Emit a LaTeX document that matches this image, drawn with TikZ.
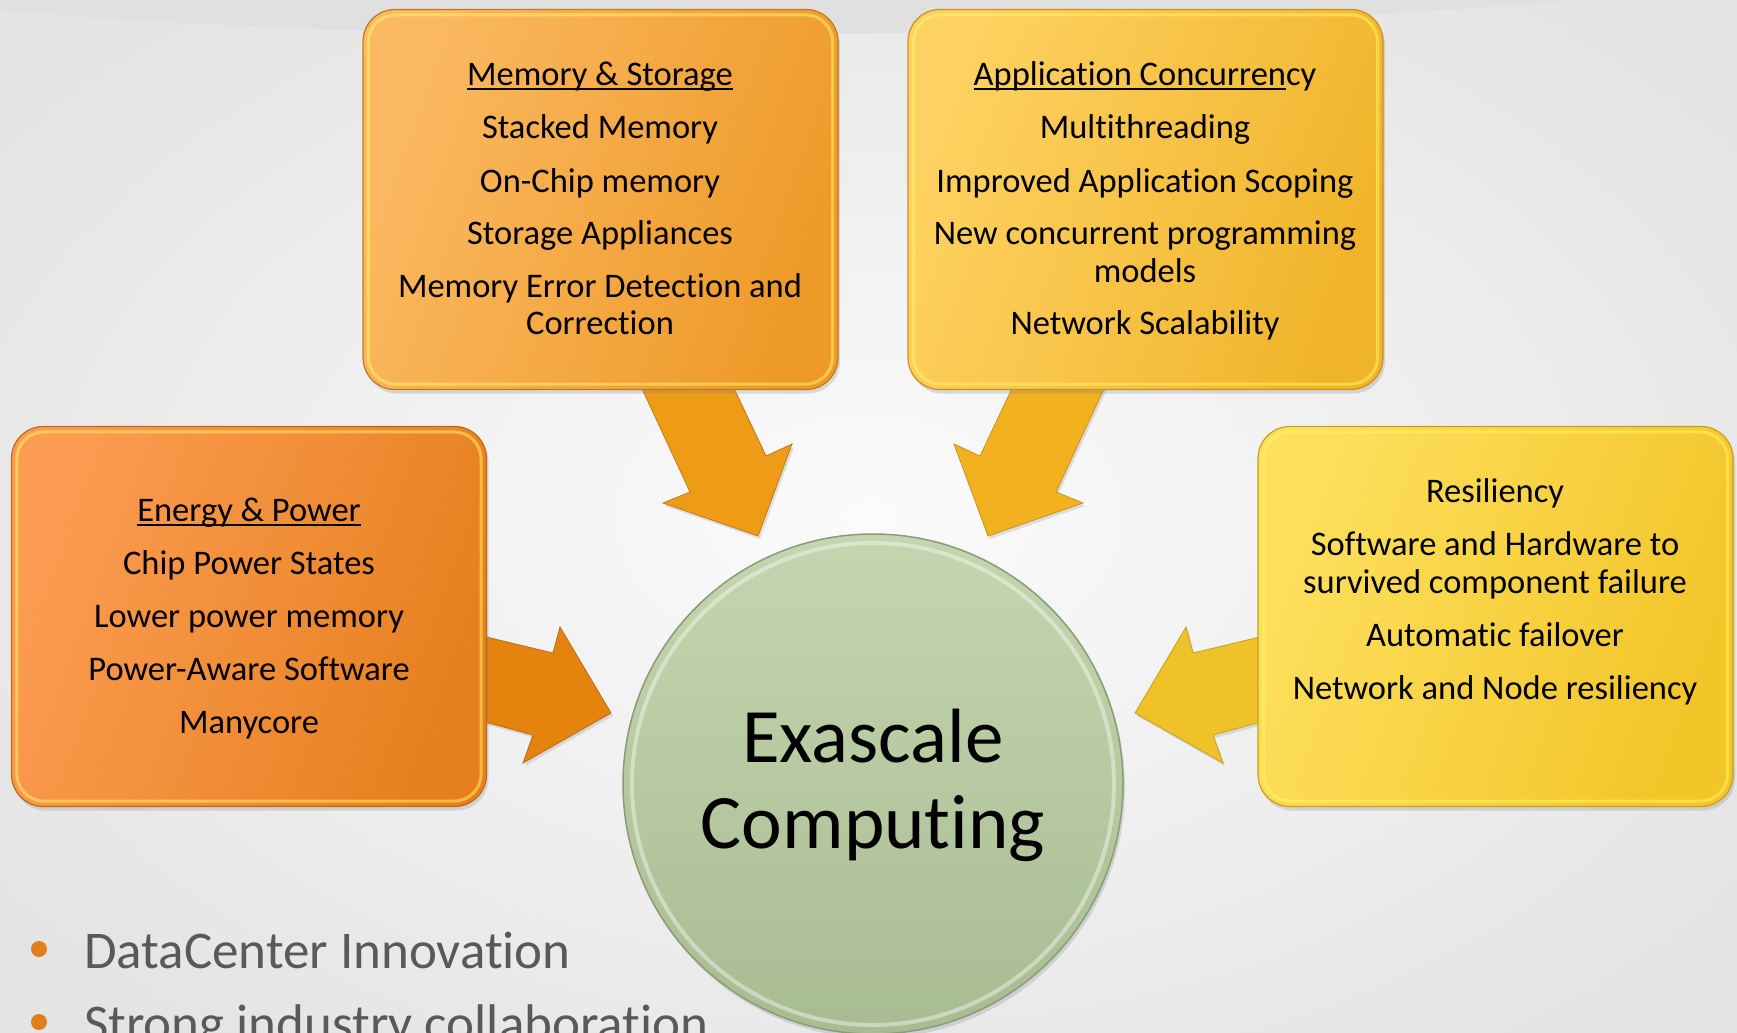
\documentclass[tikz,border=0pt]{standalone}
\usepackage{fontspec}
\setmainfont{Carlito}[RawFeature={-liga;-clig;-calt;-dlig}]
\usetikzlibrary{shadows}

% palette
\definecolor{bgedge}{HTML}{E4E4E4}
\definecolor{bgmid}{HTML}{FBFBFB}
\definecolor{bandgrey}{HTML}{E0E0E0}
\definecolor{memlight}{HTML}{FBB962}
\definecolor{memdark}{HTML}{EE9A28}
\definecolor{memrim}{HTML}{C07A1C}
\definecolor{enlight}{HTML}{FC9C52}
\definecolor{endark}{HTML}{E6801E}
\definecolor{enrim}{HTML}{BC6A18}
\definecolor{applight}{HTML}{FED262}
\definecolor{appdark}{HTML}{F0B42A}
\definecolor{apprim}{HTML}{C8921C}
\definecolor{reslight}{HTML}{FEE05E}
\definecolor{resdark}{HTML}{F2C528}
\definecolor{resrim}{HTML}{C8A01C}
\definecolor{memarrow}{HTML}{EE9C16}
\definecolor{apparrow}{HTML}{F2B11F}
\definecolor{enarrow}{HTML}{E4840F}
\definecolor{resarrow}{HTML}{F0C22A}
\definecolor{hublight}{HTML}{C4D6AF}
\definecolor{hubdark}{HTML}{A8BC92}
\definecolor{hubrim}{HTML}{889C78}
\definecolor{bullettext}{HTML}{595959}
\definecolor{bulletdot}{HTML}{E0801C}

% underline that runs through the descenders
\newcommand{\uln}[1]{\setbox0=\hbox{#1}\rlap{\rule[-4.5pt]{\wd0}{1.8pt}}\box0}
% keep "t" and "i" as separate glyphs
\newcommand{\tsep}{t\kern0pt i}

\tikzset{
  panel/.style={rectangle, rounded corners=32pt, minimum width=475pt,
    minimum height=380pt, inner sep=0pt, line width=1.2pt,
    drop shadow={shadow xshift=2pt, shadow yshift=-4pt, opacity=.25}},
  rim/.style={rounded corners=27pt, line width=3pt, opacity=.5},
  blockarrow/.style={line width=.8pt,
    drop shadow={shadow xshift=2pt, shadow yshift=-3pt, opacity=.22}},
  item/.style={anchor=base, inner sep=0pt, font=\fontsize{34.5}{40}\selectfont},
  bigtext/.style={anchor=base, inner sep=0pt, font=\fontsize{77}{86}\selectfont},
  bullettxt/.style={anchor=base west, inner sep=0pt, text=bullettext,
    font=\fontsize{53}{60}\selectfont},
  dot/.style={circle, fill=bulletdot, minimum size=16pt, inner sep=0pt},
}

\begin{document}
\begin{tikzpicture}[x=1pt, y=-1pt]
\useasboundingbox (0,0) rectangle (1737,1033);
\clip (0,0) rectangle (1737,1033);

% backdrop
\shade[inner color=bgmid, outer color=bgedge] (-200,-150) rectangle (1937,1183);
\fill[bandgrey] (0,0) -- (0,10) .. controls (350,42) and (1000,48) .. (1575,0) -- cycle;

% block arrows pointing at the centre
\draw[blockarrow, fill=memarrow, draw=memrim]
  (638,380) -- (690,492) -- (663,503) -- (758,536) -- (792,444) -- (766,456) -- (730,380) -- cycle;
\draw[blockarrow, fill=apparrow, draw=apprim]
  (1108,380) -- (1056,492) -- (1083,503) -- (988,536) -- (954,444) -- (980,456) -- (1016,380) -- cycle;
\draw[blockarrow, fill=enarrow, draw=enrim]
  (478,635) -- (553,653) -- (560,627) -- (611,713) -- (523,763) -- (533,735) -- (478,720) -- cycle;
\draw[blockarrow, fill=resarrow, draw=resrim]
  (1268,635) -- (1193,653) -- (1186,627) -- (1135,713) -- (1223,763) -- (1213,735) -- (1268,720) -- cycle;

% topic panels
\node[panel, left color=memlight, right color=memdark, shading angle=70, draw=memrim] (mem) at (600.5,199.5) {};
\node[panel, left color=applight, right color=appdark, shading angle=70, draw=apprim] (app) at (1145.5,199.5) {};
\node[panel, left color=enlight, right color=endark, shading angle=70, draw=enrim] (energy) at (249,616.5) {};
\node[panel, left color=reslight, right color=resdark, shading angle=70, draw=resrim] (res) at (1495.5,616.5) {};
\foreach \p in {mem, app, energy, res}
  \draw[rim, draw=yellow!60!white] ([shift={(6,6)}]\p.north west) rectangle ([shift={(-6,-6)}]\p.south east);

% central disc
\node[circle, minimum size=500pt, inner sep=0pt, top color=hublight, bottom color=hubdark,
  draw=hubrim, line width=1.5pt,
  drop shadow={shadow xshift=2pt, shadow yshift=-4pt, opacity=.25}] (hub) at (873,784) {};
\draw[white, opacity=.4, line width=4pt] (hub.center) circle[radius=241];
\node[bigtext] (h1) at (873,762) {Exascale};
\node[bigtext] (h2) at (873,848) {Compu\tsep ng};

% panel texts
\node[item] (m1) at (600,85) {\uln{Memory \& Storage}};
\node[item] (m2) at (600,138) {Stacked Memory};
\node[item] (m3) at (600,192) {On-Chip memory};
\node[item] (m4) at (600,244) {Storage Appliances};
\node[item] (m5) at (600,297) {Memory Error Detec\tsep on and};
\node[item] (m6) at (600,334) {Correc\tsep on};

\node[item] (a1) at (1145,85) {\uln{Applica\tsep on Concurren}cy};
\node[item] (a2) at (1145,138) {Multithreading};
\node[item] (a3) at (1145,192) {Improved Applica\tsep on Scoping};
\node[item] (a4) at (1145,244) {New concurrent programming};
\node[item] (a5) at (1145,282) {models};
\node[item] (a6) at (1145,334) {Network Scalability};

\node[item] (e1) at (249,521) {\uln{Energy \& Power}};
\node[item] (e2) at (249,574) {Chip Power States};
\node[item] (e3) at (249,627) {Lower power memory};
\node[item] (e4) at (249,680) {Power-Aware Software};
\node[item] (e5) at (249,733) {Manycore};

\node[item] (r1) at (1495,502) {Resiliency};
\node[item] (r2) at (1495,555) {Software and Hardware to};
\node[item] (r3) at (1495,593) {survived component failure};
\node[item] (r4) at (1495,646) {Automa\tsep c failover};
\node[item] (r5) at (1495,699) {Network and Node resiliency};

% bullet list below
\node[dot] (b1) at (39,949) {};
\node[bullettxt] (t1) at (84,968) {DataCenter Innova\tsep on};
\node[dot] (b2) at (39,1022) {};
\node[bullettxt] (t2) at (84,1041) {Strong industry collabora\tsep on};
\end{tikzpicture}
\end{document}
